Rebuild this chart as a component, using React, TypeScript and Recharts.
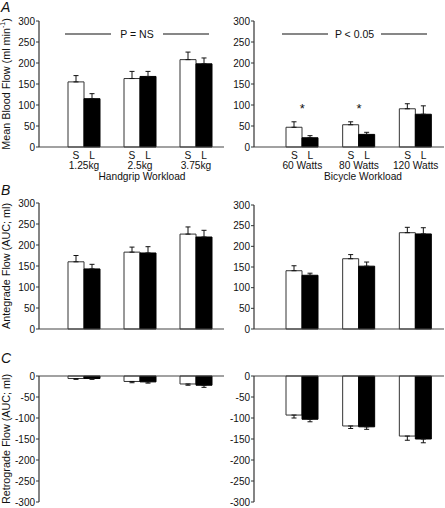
import {
  Bar,
  BarChart,
  ErrorBar,
  ReferenceDot,
  ReferenceLine,
  XAxis,
  YAxis,
} from 'recharts';

const FONT = '"Liberation Sans", Arial, sans-serif';

const HANDGRIP = ['1.25kg', '2.5kg', '3.75kg'];
const BICYCLE = ['60 Watts', '80 Watts', '120 Watts'];

const POS_TICKS = [0, 50, 100, 150, 200, 250, 300];
const NEG_TICKS = [0, -50, -100, -150, -200, -250, -300];

// A: mean blood flow
const HG_MEAN_S = [155, 163, 208];
const HG_MEAN_S_SEM = [15, 17, 18];
const HG_MEAN_L = [115, 168, 198];
const HG_MEAN_L_SEM = [12, 12, 14];
const BK_MEAN_S = [47, 53, 91];
const BK_MEAN_S_SEM = [13, 7, 12];
const BK_MEAN_L = [22, 30, 78];
const BK_MEAN_L_SEM = [5, 5, 20];
const BK_STARS = ['60 Watts', '80 Watts'];

// B: antegrade flow
const HG_ANTE_S = [160, 183, 226];
const HG_ANTE_S_SEM = [15, 12, 17];
const HG_ANTE_L = [143, 181, 219];
const HG_ANTE_L_SEM = [11, 15, 16];
const BK_ANTE_S = [141, 170, 233];
const BK_ANTE_S_SEM = [12, 10, 13];
const BK_ANTE_L = [130, 152, 230];
const BK_ANTE_L_SEM = [5, 10, 15];

// C: retrograde flow
const HG_RETRO_S = [-6, -13, -19];
const HG_RETRO_S_SEM = [2, 3, 3];
const HG_RETRO_L = [-6, -14, -22];
const HG_RETRO_L_SEM = [2, 3, 5];
const BK_RETRO_S = [-93, -119, -143];
const BK_RETRO_S_SEM = [7, 6, 10];
const BK_RETRO_L = [-103, -121, -150];
const BK_RETRO_L_SEM = [6, 6, 9];

function rows(cats: string[], s: number[], sErr: number[], l: number[], lErr: number[]) {
  return cats.map((name, i) => ({
    name,
    s: s[i],
    l: l[i],
    // one-sided error bars, pointing away from zero
    sErr: s[i] < 0 ? [sErr[i], 0] : [0, sErr[i]],
    lErr: l[i] < 0 ? [lErr[i], 0] : [0, lErr[i]],
  }));
}

const GroupTick = (props: any) => {
  const { x, y, payload, index, title, titleDx } = props;
  const t = { fontFamily: FONT, fontSize: 10.2, fill: '#111', textAnchor: 'middle' as const };
  return (
    <g>
      <text {...t} x={x - 8} y={y + 11.5}>S</text>
      <text {...t} x={x + 8} y={y + 11.5}>L</text>
      <text {...t} x={x} y={y + 21.5}>{payload.value}</text>
      {index === 1 && (
        <text {...t} x={x + titleDx} y={y + 33}>{title}</text>
      )}
    </g>
  );
};

const PLine = (props: any) => {
  const { x1, x2, y1, text, padL, padR } = props;
  const a = x1 + padL;
  const b = x2 - padR;
  const mid = (a + b) / 2;
  return (
    <g>
      <line x1={a} x2={a + 46} y1={y1} y2={y1} stroke="#111" strokeWidth={1.2} />
      <line x1={b - 46} x2={b} y1={y1} y2={y1} stroke="#111" strokeWidth={1.2} />
      <text x={mid} y={y1 + 3.7} textAnchor="middle" fontFamily={FONT} fontSize={10.5} fill="#111">
        {text}
      </text>
    </g>
  );
};

const YLabel = (props: any) => {
  const { viewBox, main, sup, tail } = props;
  const cy = viewBox.y + viewBox.height / 2;
  return (
    <text
      x={6}
      y={cy}
      transform={`rotate(-90, 6, ${cy})`}
      textAnchor="middle"
      dominantBaseline="central"
      fontFamily={FONT}
      fontSize={10.8}
      fill="#111"
    >
      {main}
      {sup && (
        <tspan fontSize={7} dy={-4}>{sup}</tspan>
      )}
      {sup && <tspan dy={4}>{tail}</tspan>}
    </text>
  );
};

interface PanelProps {
  data: any[];
  left: number;
  top: number;
  height: number;
  margin: { top: number; right: number; bottom: number; left: number };
  negative?: boolean;
  padLeft: number;
  xTitle?: string;
  titleDx?: number;
  label?: { main: string; sup?: string; tail?: string };
  pText?: string;
  pPad?: [number, number];
  stars?: string[];
}

function Panel({
  data, left, top, height, margin, negative, padLeft, xTitle, titleDx = 0, label, pText, pPad, stars,
}: PanelProps) {
  return (
    <div style={{ position: 'absolute', left, top }}>
      <BarChart
        width={230}
        height={height}
        data={data}
        margin={margin}
        barSize={16}
        barGap={0}
      >
        <XAxis
          dataKey="name"
          orientation={negative ? 'top' : 'bottom'}
          height={xTitle ? 40 : 3}
          padding={{ left: padLeft, right: 0 }}
          axisLine={{ stroke: '#444', strokeWidth: 1.2 }}
          tickLine={false}
          tickSize={0}
          tickMargin={0}
          interval={0}
          tick={xTitle ? (p: any) => <GroupTick {...p} title={xTitle} titleDx={titleDx} /> : false}
        />
        <YAxis
          width={39}
          domain={negative ? [-300, 0] : [0, 300]}
          ticks={negative ? NEG_TICKS : POS_TICKS}
          interval={0}
          axisLine={{ stroke: '#333', strokeWidth: 1.2 }}
          tickLine={{ stroke: '#333' }}
          tickSize={3}
          tickMargin={1}
          tick={{ fontFamily: FONT, fontSize: 10, fill: '#111' }}
          label={label ? { content: (p: any) => <YLabel {...p} {...label} /> } : undefined}
        />
        {pText && pPad && (
          <ReferenceLine
            y={269}
            ifOverflow="extendDomain"
            shape={(p: any) => <PLine {...p} text={pText} padL={pPad[0]} padR={pPad[1]} />}
          />
        )}
        {stars &&
          stars.map((c) => (
            <ReferenceDot
              key={c}
              x={c}
              y={100}
              r={0}
              shape={(p: any) => (
                <text x={p.cx} y={p.cy + 8} textAnchor="middle" fontFamily={FONT} fontSize={13} fill="#111">
                  *
                </text>
              )}
            />
          ))}
        <Bar dataKey="s" fill="#fff" stroke="#333" strokeWidth={1} isAnimationActive={false}>
          <ErrorBar dataKey="sErr" width={2.5} stroke="#111" strokeWidth={1} />
        </Bar>
        <Bar dataKey="l" fill="#000" stroke="#000" strokeWidth={1} isAnimationActive={false}>
          <ErrorBar dataKey="lErr" width={2.5} stroke="#111" strokeWidth={1} />
        </Bar>
      </BarChart>
    </div>
  );
}

export default function App() {
  const letter = { fontFamily: FONT, fontSize: 14, fontStyle: 'italic' as const, fill: '#111' };
  return (
    <div style={{ position: 'absolute', left: 0, top: 0, width: 445, height: 508, background: '#fff', overflow: 'hidden' }}>
      <Panel
        data={rows(HANDGRIP, HG_MEAN_S, HG_MEAN_S_SEM, HG_MEAN_L, HG_MEAN_L_SEM)}
        left={0}
        top={0}
        height={190}
        margin={{ top: 21, right: 6, bottom: 3, left: 0 }}
        padLeft={17}
        xTitle="Handgrip Workload"
        titleDx={2}
        label={{ main: 'Mean Blood Flow (ml  min', sup: '-1', tail: ')' }}
        pText="P = NS"
        pPad={[26, 15]}
      />
      <Panel
        data={rows(BICYCLE, BK_MEAN_S, BK_MEAN_S_SEM, BK_MEAN_L, BK_MEAN_L_SEM)}
        left={215}
        top={0}
        height={190}
        margin={{ top: 21, right: 1, bottom: 3, left: 0 }}
        padLeft={20}
        xTitle="Bicycle Workload"
        titleDx={4}
        pText="P < 0.05"
        pPad={[28, 17]}
        stars={BK_STARS}
      />
      <Panel
        data={rows(HANDGRIP, HG_ANTE_S, HG_ANTE_S_SEM, HG_ANTE_L, HG_ANTE_L_SEM)}
        left={0}
        top={170}
        height={172}
        margin={{ top: 33, right: 6, bottom: 10, left: 0 }}
        padLeft={17}
        label={{ main: 'Antegrade Flow (AUC; ml)' }}
      />
      <Panel
        data={rows(BICYCLE, BK_ANTE_S, BK_ANTE_S_SEM, BK_ANTE_L, BK_ANTE_L_SEM)}
        left={215}
        top={170}
        height={172}
        margin={{ top: 35, right: 1, bottom: 10, left: 0 }}
        padLeft={20}
      />
      <Panel
        data={rows(HANDGRIP, HG_RETRO_S, HG_RETRO_S_SEM, HG_RETRO_L, HG_RETRO_L_SEM)}
        left={0}
        top={340}
        height={178}
        margin={{ top: 33, right: 6, bottom: 16, left: 0 }}
        negative
        padLeft={17}
        label={{ main: 'Retrograde Flow (AUC; ml)' }}
      />
      <Panel
        data={rows(BICYCLE, BK_RETRO_S, BK_RETRO_S_SEM, BK_RETRO_L, BK_RETRO_L_SEM)}
        left={215}
        top={340}
        height={178}
        margin={{ top: 33, right: 1, bottom: 16, left: 0 }}
        negative
        padLeft={20}
      />
      <svg width={445} height={508} style={{ position: 'absolute', left: 0, top: 0, pointerEvents: 'none' }}>
        <text {...letter} x={1} y={12}>A</text>
        <text {...letter} x={1} y={195}>B</text>
        <text {...letter} x={1} y={363}>C</text>
      </svg>
    </div>
  );
}
